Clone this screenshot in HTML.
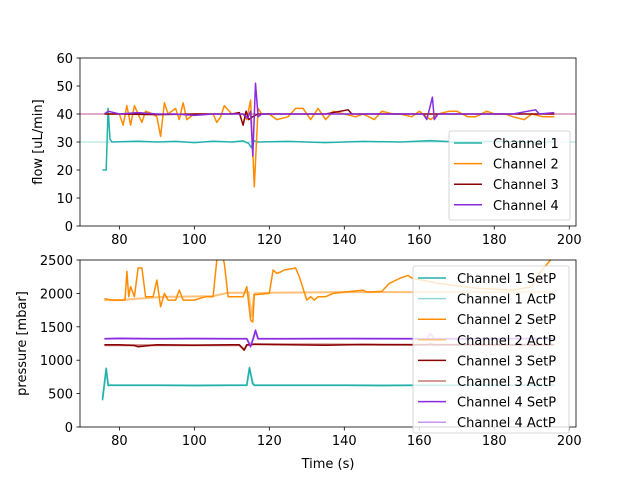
<!DOCTYPE html>
<html><head><meta charset="utf-8"><style>
body{margin:0;background:#fff}
svg{font-family:"DejaVu Sans","Liberation Sans",sans-serif}
</style></head><body>
<svg id="c" width="640" height="480">
<defs>
<clipPath id="clipTop"><rect x="80" y="58" width="496" height="168"/></clipPath>
<clipPath id="clipBot"><rect x="80" y="260" width="496" height="167"/></clipPath>
</defs>
</svg>
<script>
// ---- data ----
const xTicks=[80,100,120,140,160,180,200];
const flowTicks=[0,10,20,30,40,50,60];
const presTicks=[0,500,1000,1500,2000,2500];
const flowRefLevels=[40,30];
const ch1FlowT=[75.5,76.5,77,77.5,78,85,90,95,100,105,110,113,114.5,115.2,115.8,117,125,135,145,155,163,170,180,190,196];
const ch1Flow=[20,20,42,31,30,30.3,30,30.2,29.8,30.3,30,30.4,29.5,28,30.5,30,30.2,29.8,30.2,30,30.5,30,30.2,30,30];
const ch2FlowT=[76,78,80,81,82,83,84,85,86,87,89,90,91,92,93,95,96,97,98,100,103,105,106,107,108,110,113,114,115,116,117,118,120,122,125,127,129,131,133,135,137,140,143,145,148,150,153,155,158,160,163,165,168,170,173,175,178,180,183,185,188,190,193,196];
const ch2Flow=[40,40,40,36,43,36,43,40,37,41,40,39,32,44,40,42,38,44,38,40,40,40,37,39,43,40,40,38,45,14,42,40,40,38,39,42,42,38,42,38,41,40,39,40,38,41,40,40,39,41,38,40,41,41,39,39,41,40,40,39,38,40,39,39];
const ch3FlowT=[76,80,90,100,110,112,113,113.8,114.5,115.5,117,125,135,141,142,150,160,170,180,190,196];
const ch3Flow=[40,40,39.8,40,40,40.5,36,41,38,39,40,40,40,41.5,40,40,40,40,40,40,40];
const ch4FlowT=[76,77,80,85,90,95,100,105,110,113,114.2,115,115.6,116.3,117,118,125,135,145,155,161,162,163.5,164,165,175,185,191,192,196];
const ch4Flow=[40,41,40,40.5,40,40,39.5,40,40,40,38.5,41,25,51,39,40,40,40,40,40,40,38,46,38,40,40,40,41.5,40,40.5];
const ch1SetT=[75.5,76.5,77,78,90,100,110,114,114.7,115.5,116,125,140,150,160,175,190,196];
const ch1Set=[400,880,620,625,625,620,625,625,890,650,625,625,625,620,625,625,625,625];
const ch1ActT=[75.5,76.5,77,78,100,114,114.7,115.5,116,196];
const ch1Act=[420,860,640,625,625,625,880,680,625,625];
const ch2SetT=[76,78,80,81.5,82,82.5,83,84,85,86,87,89,90,91,92,93,95,96,97,100,103,105,106,107.5,108,109,113,114,115,115.6,116,120,121,122,123,124,127,128,130,131,132,133,135,137,140,145,146,150,152,155,157,158,165,175,185,190,192,195,196];
const ch2Set=[1920,1900,1900,1900,2330,1950,2100,1950,2380,2380,1950,1950,2200,1800,2000,1900,1900,2050,1900,1900,1950,1950,2500,2560,2450,1950,1950,2100,1600,1570,1980,2000,2350,2300,2320,2350,2380,2250,1900,1950,1900,1950,1950,2000,2020,2050,2020,2030,2150,2230,2270,2230,2150,2080,2050,2100,2300,2500,2560];
const ch2ActT=[76,80,92,95,105,109,113,114.5,115.2,116,120,140,150,160,170,180,196];
const ch2Act=[1900,1900,1950,1950,1960,2010,2010,2020,1650,2000,2010,2020,2020,2020,2020,2020,2020];
const ch3SetT=[76,80,84,85,90,100,110,112,113.3,114,116,125,135,145,150,160,170,180,190,196];
const ch3Set=[1230,1230,1220,1200,1230,1225,1230,1230,1150,1230,1240,1230,1225,1235,1230,1230,1230,1230,1230,1230];
const ch3ActT=[76,100,112,113.3,114,116,162,163,164,196];
const ch3Act=[1225,1225,1225,1160,1225,1240,1230,1250,1230,1230];
const ch4SetT=[76,80,90,100,110,114,115,115.6,116.3,117,125,140,160,175,190,196];
const ch4Set=[1320,1330,1320,1325,1320,1320,1200,1300,1450,1320,1320,1325,1320,1320,1325,1320];
const ch4ActT=[76,100,114,115,115.6,116.3,117,162,163,164,196];
const ch4Act=[1320,1320,1320,1220,1310,1430,1320,1320,1400,1320,1320];

// ---- axes ----
const X0=80,X1=576,XMIN=69.5,XMAX=201.8;
const FS=13;
const sx=t=>X0+(t-XMIN)/(XMAX-XMIN)*(X1-X0);
const syTop=v=>226-v/60*168;
const syBot=v=>427-v/2500*167;
const svg=document.getElementById('c');
const NS='http://www.w3.org/2000/svg';
function mk(tag,attrs,parent){const e=document.createElementNS(NS,tag);for(const k in attrs)e.setAttribute(k,attrs[k]);(parent||svg).appendChild(e);return e;}

function line(ts,vs,sy,color,w,clip,name){
  const pts=ts.map((t,i)=>sx(t).toFixed(1)+','+sy(vs[i]).toFixed(1)).join(' ');
  const p=mk('polyline',{points:pts,fill:'none',stroke:color,'stroke-width':w,'stroke-linejoin':'round','clip-path':'url(#'+clip+')'});
  
  
}
function axes(top,bottom,ticks,sy,ylabel,name,showXLabel){
  const g=mk('g',{});
  
  
  xTicks.forEach(t=>{mk('line',{x1:sx(t),x2:sx(t),y1:bottom,y2:bottom+3.5,stroke:'#000','stroke-width':0.8},g);
    const tx=mk('text',{x:sx(t),y:bottom+18,'font-size':FS,'text-anchor':'middle'},g);tx.textContent=t;});
  ticks.forEach(v=>{mk('line',{x1:X0-3.5,x2:X0,y1:sy(v),y2:sy(v),stroke:'#000','stroke-width':0.8},g);
    const tx=mk('text',{x:X0-7,y:sy(v)+5,'font-size':FS,'text-anchor':'end'},g);tx.textContent=v;});
  const yl=mk('text',{x:0,y:0,'font-size':FS,'text-anchor':'middle',transform:'translate('+(ylabel.x)+','+((top+bottom)/2)+') rotate(-90)'},g);
  yl.textContent=ylabel.t;
  
  
  if(showXLabel){const xl=mk('text',{x:(X0+X1)/2,y:bottom+41,'font-size':FS,'text-anchor':'middle'},g);xl.textContent='Time (s)';
    
    }
  return g;
}
function frame(top,bottom){const r=mk('rect',{x:X0,y:top,width:X1-X0,height:bottom-top,fill:'none',stroke:'#000','stroke-width':0.8});
  }

// top panel
axes(58,226,flowTicks,syTop,{x:42,t:'flow [uL/min]'},'flow-axes',false);
const refColors=['#c0559a','#9fe0dc'];
flowRefLevels.forEach((v,i)=>{const l=mk('line',{x1:X0,x2:X1,y1:syTop(v),y2:syTop(v),stroke:refColors[i],'stroke-width':1});
  });
line(ch1FlowT,ch1Flow,syTop,'#20b2aa',1.5,'clipTop','flow-channel-1');
line(ch2FlowT,ch2Flow,syTop,'#ff8c00',1.5,'clipTop','flow-channel-2');
line(ch3FlowT,ch3Flow,syTop,'#8b0000',1.5,'clipTop','flow-channel-3');
line(ch4FlowT,ch4Flow,syTop,'#8a2be2',1.5,'clipTop','flow-channel-4');
frame(58,226);

// bottom panel
axes(260,427,presTicks,syBot,{x:26,t:'pressure [mbar]'},'pressure-axes',true);
line(ch1ActT,ch1Act,syBot,'#8fd9d5',2,'clipBot','ch1-actp');
line(ch1SetT,ch1Set,syBot,'#20b2aa',1.5,'clipBot','ch1-setp');
line(ch2ActT,ch2Act,syBot,'#ffc07a',2,'clipBot','ch2-actp');
line(ch2SetT,ch2Set,syBot,'#ff8c00',1.5,'clipBot','ch2-setp');
line(ch3ActT,ch3Act,syBot,'#c47a74',2,'clipBot','ch3-actp');
line(ch3SetT,ch3Set,syBot,'#8b0000',1.5,'clipBot','ch3-setp');
line(ch4ActT,ch4Act,syBot,'#c595f0',2,'clipBot','ch4-actp');
line(ch4SetT,ch4Set,syBot,'#8a2be2',1.5,'clipBot','ch4-setp');
frame(260,427);

// legends
function legend(x,y,w,h,items,name){
  const g=mk('g',{});
  
  
  mk('rect',{x:x,y:y,width:w,height:h,rx:2,fill:'#fff','fill-opacity':0.8,stroke:'#ccc','stroke-width':0.8},g);
  items.forEach((it,i)=>{const cy=y+12+i*20.6;
    const e=mk('g',{},g);
    
    
    mk('line',{x1:x+5,x2:x+33,y1:cy,y2:cy,stroke:it[1],'stroke-width':1.5},e);
    const t=mk('text',{x:x+44,y:cy+5,'font-size':FS},e);t.textContent=it[0];});
}
legend(449,131,121,89,[['Channel 1','#20b2aa'],['Channel 2','#ff8c00'],['Channel 3','#8b0000'],['Channel 4','#8a2be2']],'flow-legend');
legend(413,266,156,167,[['Channel 1 SetP','#20b2aa'],['Channel 1 ActP','#8fd9d5'],['Channel 2 SetP','#ff8c00'],['Channel 2 ActP','#ffc07a'],['Channel 3 SetP','#8b0000'],['Channel 3 ActP','#c47a74'],['Channel 4 SetP','#8a2be2'],['Channel 4 ActP','#c595f0']],'pressure-legend');
</script>
</body></html>
